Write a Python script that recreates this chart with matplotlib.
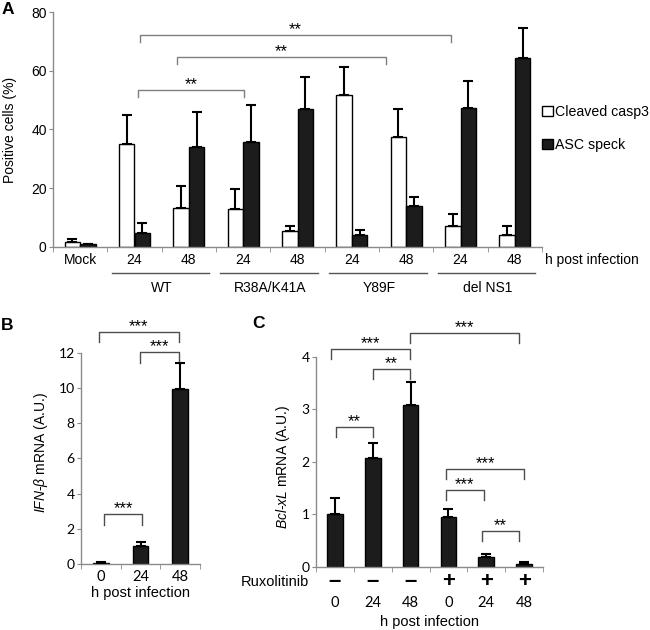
import numpy as np
import matplotlib.pyplot as plt
import matplotlib.transforms as mtransforms
from matplotlib.patches import Patch

plt.rcParams['font.family'] = ['Liberation Sans', 'DejaVu Sans']
plt.rcParams['mathtext.fontset'] = 'custom'
plt.rcParams['mathtext.it'] = 'Liberation Sans:italic'
plt.rcParams['mathtext.rm'] = 'Liberation Sans'

# ---- data, panel A
a_ticks = ["Mock", "24", "48", "24", "48", "24", "48", "24", "48"]
a_groups = ["WT", "R38A/K41A", "Y89F", "del NS1"]
a_group_pos = [(1, 2), (3, 4), (5, 6), (7, 8)]
casp3 = [1.7, 35.0, 13.4, 12.8, 5.4, 51.7, 37.3, 7.2, 4.2]
casp3_err = [1.1, 9.8, 7.4, 7.1, 1.8, 9.6, 9.6, 4.2, 3.0]
asc = [0.9, 4.9, 34.1, 35.8, 47.0, 4.0, 14.0, 47.4, 64.3]
asc_err = [0.2, 3.1, 11.9, 12.6, 10.9, 1.9, 3.1, 9.1, 10.2]
a_brackets = [(1.10, 6.82, 72.1, "**"), (1.78, 5.63, 64.7, "**"), (1.07, 3.02, 53.4, "**")]

# ---- data, panel B
b_ticks = ["0", "24", "48"]
ifnb = [0.08, 1.0, 9.94]
ifnb_err = [0.03, 0.23, 1.46]
b_brackets = [(-0.04, 1.96, 13.2, "***"), (0.99, 1.96, 12.03, "***"), (0.08, 1.04, 2.84, "***")]

# ---- data, panel C
c_ticks = ["0", "24", "48", "0", "24", "48"]
rux = ["–", "–", "–", "+", "+", "+"]
bclxl = [1.0, 2.08, 3.08, 0.95, 0.18, 0.06]
bclxl_err = [0.31, 0.27, 0.43, 0.14, 0.06, 0.03]
c_brackets = [(-0.10, 1.98, 4.15, "***"), (1.01, 1.98, 3.76, "**"), (0.03, 1.0, 2.67, "**"),
              (1.98, 4.86, 4.46, "***"), (2.93, 5.01, 1.86, "***"), (2.93, 3.93, 1.47, "***"),
              (3.89, 4.86, 0.68, "**")]

SPINE = '#8a8a8a'
DARK = '#1c1c1c'


def style(ax):
    for s in ['top', 'right']:
        ax.spines[s].set_visible(False)
    for s in ['left', 'bottom']:
        ax.spines[s].set_color(SPINE)
        ax.spines[s].set_linewidth(1.0)


def bracket(ax, x1, x2, y, drop, label, color):
    ax.plot([x1, x1, x2, x2], [y - drop, y, y, y - drop], color=color, lw=1.0, clip_on=False)
    ax.annotate(label, xy=((x1 + x2) / 2, y), xytext=(0, 0.5), textcoords='offset points',
                ha='center', va='baseline', fontsize=12, annotation_clip=False)


fig = plt.figure(figsize=(6.5, 6.3), dpi=100)

# ================= A
axA = fig.add_axes([53 / 650, 1 - 247 / 630, 489 / 650, 235 / 630])
style(axA)
x = np.arange(len(casp3))
w = 0.285
axA.bar(x - w / 2, casp3, w, color='white', edgecolor='black', lw=1.0, zorder=2)
axA.bar(x + w / 2, asc, w, color=DARK, edgecolor='black', lw=1.0, zorder=2)
axA.errorbar(x - w / 2, casp3, yerr=[np.zeros(len(x)), casp3_err], fmt='none', ecolor='black',
             elinewidth=1.5, capsize=3.5, capthick=1.5, zorder=3)
axA.errorbar(x + w / 2, asc, yerr=[np.zeros(len(x)), asc_err], fmt='none', ecolor='black',
             elinewidth=1.5, capsize=3.5, capthick=1.5, zorder=3)
axA.set_xlim(-0.5, 8.5)
axA.set_ylim(0, 80)
axA.set_yticks([0, 20, 40, 60, 80])
axA.set_xticks(x)
axA.set_xticklabels(a_ticks)
axA.set_xticks(np.arange(-0.5, 9, 1), minor=True)
axA.tick_params(axis='x', which='major', length=0, pad=4, labelsize=10)
axA.tick_params(axis='x', which='minor', length=3.5, color=SPINE)
axA.tick_params(axis='y', length=3, color=SPINE, labelsize=10, pad=1.5)
axA.set_ylabel("Positive cells (%)", fontsize=10)
axA.yaxis.set_label_coords(-0.074, 0.5)

tA = mtransforms.blended_transform_factory(axA.transData, axA.transAxes)
for (i, j), name in zip(a_group_pos, a_groups):
    axA.plot([i - 0.42, j + 0.38], [-0.112, -0.112], transform=tA, color='#555555', lw=1.0,
             clip_on=False)
    axA.text((i + j) / 2, -0.175, name, transform=tA, ha='center', va='center', fontsize=10)
axA.text(8.56, -0.055, "h post infection", transform=tA, ha='left', va='center', fontsize=10)

for x1, x2, y, lab in a_brackets:
    bracket(axA, x1, x2, y, 2.3, lab, '#7f7f7f')

handles = [Patch(facecolor='white', edgecolor='black'), Patch(facecolor=DARK, edgecolor='black')]
axA.legend(handles, ["Cleaved casp3", "ASC speck"], loc='center left', bbox_to_anchor=(1.0, 0.504),
           frameon=False, handlelength=0.75, handleheight=0.75, handletextpad=0.15,
           labelspacing=1.35, fontsize=10.2, borderaxespad=0, borderpad=0)

# ================= B
axB = fig.add_axes([81 / 650, 1 - 564 / 630, 119 / 650, 211.3 / 630])
style(axB)
xb = np.arange(len(ifnb))
axB.bar(xb, ifnb, 0.39, color=DARK, edgecolor='black', lw=1.0, zorder=2)
axB.errorbar(xb, ifnb, yerr=[np.zeros(len(xb)), ifnb_err], fmt='none', ecolor='black',
             elinewidth=1.5, capsize=3.5, capthick=1.5, zorder=3)
axB.set_xlim(-0.5, 2.5)
axB.set_ylim(0, 12)
axB.set_yticks(range(0, 13, 2))
axB.set_xticks(xb)
axB.set_xticklabels(b_ticks)
axB.set_xticks(np.arange(-0.5, 3, 1), minor=True)
axB.tick_params(axis='x', which='major', length=0, pad=4, labelsize=10.5)
axB.tick_params(axis='x', which='minor', length=3.5, color=SPINE)
axB.tick_params(axis='y', length=3, color=SPINE, labelsize=10, pad=1.5)
for lab in axB.get_xticklabels() + axB.get_yticklabels():
    lab.set_family(['Lato', 'DejaVu Sans'])
axB.set_ylabel(r"$\mathit{IFN}$-$\mathit{β}$ mRNA (A.U.)", fontsize=10)
axB.yaxis.set_label_coords(-0.26, 0.525)
tB = mtransforms.blended_transform_factory(axB.transData, axB.transAxes)
axB.text(1.0, -0.137, "h post infection", transform=tB, ha='center', va='center', fontsize=10.5)
for x1, x2, y, lab in b_brackets:
    bracket(axB, x1, x2, y, 0.6, lab, '#4d4d4d')

# ================= C
axC = fig.add_axes([316 / 650, 1 - 566.7 / 630, 227 / 650, 210 / 630])
style(axC)
xc = np.arange(len(bclxl))
axC.bar(xc, bclxl, 0.41, color=DARK, edgecolor='black', lw=1.0, zorder=2)
axC.errorbar(xc, bclxl, yerr=[np.zeros(len(xc)), bclxl_err], fmt='none', ecolor='black',
             elinewidth=1.5, capsize=3.5, capthick=1.5, zorder=3)
axC.set_xlim(-0.5, 5.5)
axC.set_ylim(0, 4)
axC.set_yticks(range(0, 5))
axC.set_xticks(xc)
axC.set_xticklabels(c_ticks)
axC.set_xticks(np.arange(-0.5, 6, 1), minor=True)
axC.tick_params(axis='x', which='major', length=0, pad=21, labelsize=10.5)
axC.tick_params(axis='x', which='minor', length=3.5, color=SPINE)
axC.tick_params(axis='y', length=3, color=SPINE, labelsize=10, pad=1.5)
for lab in axC.get_xticklabels() + axC.get_yticklabels():
    lab.set_family(['Lato', 'DejaVu Sans'])
axC.set_ylabel(r"$\mathit{Bcl}$-$\mathit{xL}$ mRNA (A.U.)", fontsize=10)
axC.yaxis.set_label_coords(-0.107, 0.476)
tC = mtransforms.blended_transform_factory(axC.transData, axC.transAxes)
for xi, s in zip(xc, rux):
    axC.text(xi, -0.071, s, transform=tC, ha='center', va='center', fontsize=16, fontweight='bold')
axC.text(-0.68, -0.071, "Ruxolitinib", transform=tC, ha='right', va='center', fontsize=10.5)
axC.text(2.5, -0.262, "h post infection", transform=tC, ha='center', va='center', fontsize=10.5)
for x1, x2, y, lab in c_brackets:
    bracket(axC, x1, x2, y, 0.19, lab, '#4d4d4d')

# panel letters
fig.text(0.002, 1 - 9 / 630, "A", fontsize=12.5, fontweight='bold', va='center', ha='left')
fig.text(0.002, 1 - 325 / 630, "B", fontsize=12.5, fontweight='bold', va='center', ha='left')
fig.text(252 / 650, 1 - 324 / 630, "C", fontsize=12.5, fontweight='bold', va='center', ha='left')

fig.savefig("out.png", dpi=100)
